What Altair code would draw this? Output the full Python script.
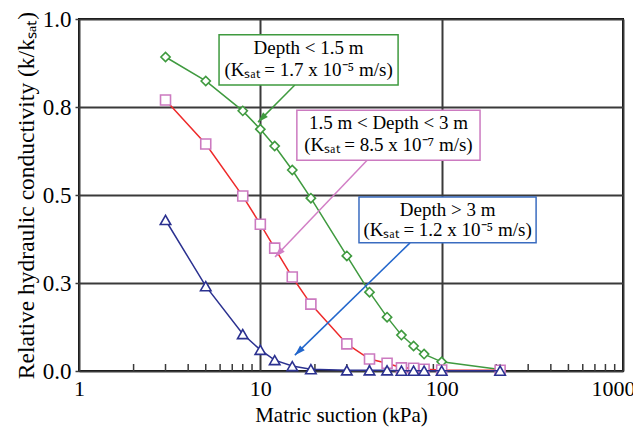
import altair as alt
import pandas as pd

# ---------------- data ----------------
suction = [3, 5, 8, 10, 12, 15, 19, 30, 40, 50, 60, 70, 80, 100, 210]
k_shallow = [0.892, 0.824, 0.739, 0.687, 0.639, 0.571, 0.491, 0.327, 0.224,
             0.153, 0.102, 0.071, 0.048, 0.026, 0.004]
k_mid = [0.770, 0.645, 0.497, 0.417, 0.349, 0.267, 0.190, 0.077, 0.034,
         0.022, 0.009, 0.008, 0.005, 0.003, 0.002]
k_deep = [0.429, 0.241, 0.105, 0.060, 0.031, 0.014, 0.005, 0.002, 0.002,
          0.002, 0.001, 0.001, 0.001, 0.001, 0.001]

x_ticks = [1, 10, 100, 1000]
y_ticks = [0, 0.25, 0.5, 0.75, 1.0]
minor_ticks = [2, 3, 4, 5, 6, 7, 8, 9, 20, 30, 40, 50, 60, 70, 80, 90,
               200, 300, 400, 500, 600, 700, 800, 900]

# annotation boxes (data coordinates)
box_x1 = [5.92, 15.9, 35.0]
box_x2 = [57.5, 162.8, 331.7]
box_y1 = [0.955, 0.741, 0.494]
box_y2 = [0.8125, 0.599, 0.364]
box_color = ["#3f9a3f", "#cc7ac0", "#3a6cc0"]

label_x = [18.45, 50.9, 107.8]
label_line1 = ["Depth < 1.5 m", "1.5 m < Depth < 3 m", "Depth > 3 m"]
label_line2 = ["(Kₛₐₜ = 1.7 x 10⁻⁵ m/s)", "(Kₛₐₜ = 8.5 x 10⁻⁷ m/s)",
               "(Kₛₐₜ = 1.2 x 10⁻⁵ m/s)"]
label_y1 = [0.918, 0.705, 0.457]
label_y2 = [0.855, 0.642, 0.401]

arrow_x_start = [15.5, 38.8, 66.9]
arrow_y_start = [0.8125, 0.599, 0.364]
arrow_x_tip = [9.71, 12.05, 15.5]
arrow_y_tip = [0.707, 0.324, 0.045]
arrow_angle = [225, 224, 226]
arrow_color = ["#3f9a3f", "#d27fc6", "#2266cc"]

FONT = "Liberation Serif"

xscale = alt.Scale(type="log", domain=[1, 1000])
yscale = alt.Scale(domain=[0, 1])

df = pd.DataFrame({"s": suction, "g": k_shallow, "r": k_mid, "b": k_deep})

xenc = alt.X("s:Q", scale=xscale,
             axis=alt.Axis(values=x_ticks, format="d", title="Matric suction (kPa)",
                           grid=True, gridColor="#3a3a3a", gridWidth=2,
                           ticks=False, domain=False, labelFont=FONT, labelFontSize=22,
                           labelColor="black", labelPadding=7, labelFlush=False,
                           labelOffset={"condition": {"test": "datum.value == 1000",
                                                      "value": -10}, "value": 0},
                           titleFont=FONT, titleFontSize=21, titleFontWeight="normal",
                           titleColor="black", titlePadding=5, titleX=262))


def yenc(field):
    return alt.Y(f"{field}:Q", scale=yscale,
                 axis=alt.Axis(values=y_ticks, format=".1f",
                               title="Relative hydraulic conductivity (k/kₛₐₜ)",
                               grid=True, gridColor="#3a3a3a", gridWidth=2,
                               ticks=True, tickSize=4, tickColor="#3a3a3a", tickWidth=1.5,
                               domain=False, labelFont=FONT, labelFontSize=23,
                               labelColor="black", labelPadding=4, labelFlush=False,
                               titleFont=FONT, titleFontSize=23.5, titleFontWeight="normal",
                               titleColor="black", titlePadding=4))


def series(field, line_color, pt_color, shape, size):
    base = alt.Chart(df)
    line = base.mark_line(color=line_color, strokeWidth=1.5).encode(x=xenc, y=yenc(field))
    pts = base.mark_point(shape=shape, size=size, color=pt_color, fill="white",
                          filled=False, strokeWidth=1.6, opacity=1).encode(
        x="s:Q", y=f"{field}:Q", fill=alt.value("white"))
    return line + pts


green = series("g", "#3f9a3f", "#3f9a3f", "diamond", 85)
red = series("r", "#ee2a2a", "#cc7ac0", "square", 100)
blue = series("b", "#2b3190", "#2b3190", "triangle-up", 110)

minor = alt.Chart(pd.DataFrame({"m": minor_ticks})).mark_rule(
    color="#3a3a3a", strokeWidth=1.5).encode(
    x="m:Q", y=alt.value(352), y2=alt.value(345))

boxes_df = pd.DataFrame({"x1": box_x1, "x2": box_x2, "y1": box_y1, "y2": box_y2,
                         "c": box_color})
boxes = alt.Chart(boxes_df).mark_rect(fill="white", strokeWidth=1.5).encode(
    x="x1:Q", x2="x2:Q", y="y1:Q", y2="y2:Q",
    stroke=alt.Stroke("c:N", scale=None))

text_df = pd.DataFrame({
    "x": label_x * 2,
    "y": label_y1 + label_y2,
    "t": label_line1 + label_line2,
})
texts = alt.Chart(text_df).mark_text(font=FONT, fontSize=19, color="black",
                                     baseline="middle", align="center").encode(
    x="x:Q", y="y:Q", text="t:N")

arrow_df = pd.DataFrame({"xs": arrow_x_start, "ys": arrow_y_start,
                         "xt": arrow_x_tip, "yt": arrow_y_tip,
                         "a": arrow_angle, "c": arrow_color})
arrow_lines = alt.Chart(arrow_df).mark_rule(strokeWidth=1.5).encode(
    x="xs:Q", y="ys:Q", x2="xt:Q", y2="yt:Q",
    color=alt.Color("c:N", scale=None))
arrow_heads = alt.Chart(arrow_df).mark_point(
    shape="M0,0 L0.32,1 L-0.32,1 Z", filled=True, size=440, opacity=1).encode(
    x="xt:Q", y="yt:Q", angle=alt.Angle("a:Q", scale=None),
    color=alt.Color("c:N", scale=None))

chart = alt.layer(minor, green, red, blue, arrow_lines, arrow_heads, boxes, texts).properties(
    width=544, height=352,
    padding={"left": 79, "top": 19, "right": 10, "bottom": 63},
    autosize=alt.AutoSizeParams(type="none"),
    background="white",
).configure_view(stroke="black", strokeWidth=2)

chart.save("out.html", embed_options={"renderer": "svg", "actions": False})
